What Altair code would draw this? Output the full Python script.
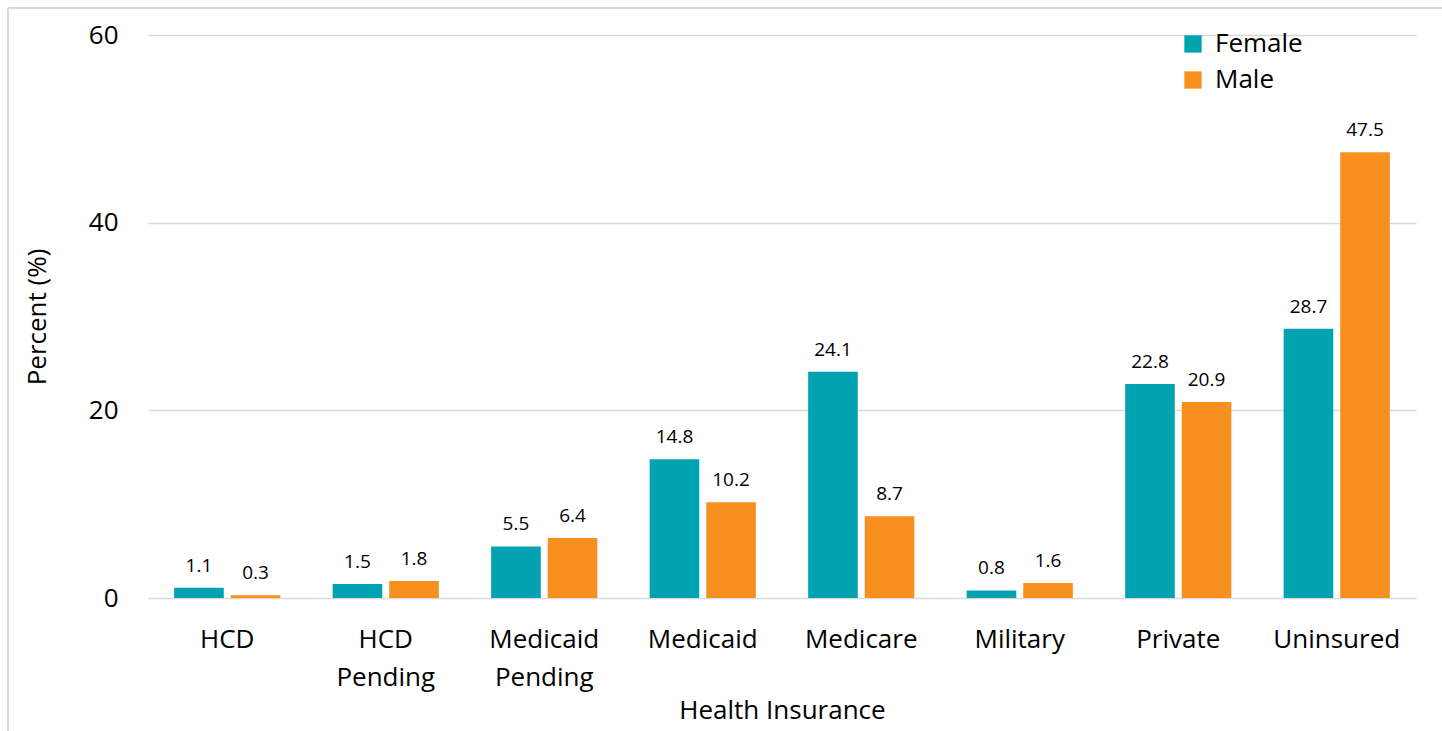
import altair as alt
import pandas as pd

categories = ["HCD", "HCD Pending", "Medicaid Pending", "Medicaid", "Medicare", "Military", "Private", "Uninsured"]
female = [1.1, 1.5, 5.5, 14.8, 24.1, 0.8, 22.8, 28.7]
male = [0.3, 1.8, 6.4, 10.2, 8.7, 1.6, 20.9, 47.5]
groups = ["Female", "Male"]
colors = ["#00A3AF", "#F7901E"]

rows = []
for c, f, m in zip(categories, female, male):
    rows.append({"cat": c, "sex": "Female", "val": f})
    rows.append({"cat": c, "sex": "Male", "val": m})
df = pd.DataFrame(rows)

FONT = "Open Sans"

x = alt.X("cat:N", sort=categories, title="Health Insurance",
          scale=alt.Scale(paddingInner=0.33, paddingOuter=0.165),
          axis=alt.Axis(labelAngle=0, labelExpr="split(datum.label, ' ')", labelLineHeight=38,
                        labelFontSize=26, labelPadding=28, ticks=False, domain=False,
                        titleFontSize=26, titleFontWeight="normal", titlePadding=7,
                        labelColor="#000", titleColor="#000", labelBaseline="top"))
xo = alt.XOffset("sex:N", sort=groups, scale=alt.Scale(paddingInner=0.123, paddingOuter=0))
y = alt.Y("val:Q", title="Percent (%)",
          scale=alt.Scale(domain=[0, 60]),
          axis=alt.Axis(values=[0, 20, 40, 60], labelFontSize=26, labelPadding=30, ticks=False,
                        domain=False, gridColor="#d9d9d9", gridWidth=1.5,
                        titleFontSize=26, titleFontWeight="normal", titlePadding=38,
                        labelColor="#000", titleColor="#000"))
color = alt.Color("sex:N", sort=groups, scale=alt.Scale(domain=groups, range=colors),
                  legend=alt.Legend(title=None, orient="none", legendX=1032, legendY=-4,
                                    symbolType="square", symbolSize=300, symbolStrokeWidth=0,
                                    labelFontSize=26, labelColor="#000", rowPadding=10,
                                    labelOffset=9))

base = alt.Chart(df)
bars = base.mark_bar().encode(x=x, xOffset=xo, y=y, color=color)
labels = base.mark_text(baseline="bottom", dy=-12, fontSize=19, font=FONT, color="#000").encode(
    x=x, xOffset=xo, y=y, text=alt.Text("val:Q", format=".1f"))

border_top = base.mark_rule(color="#d9d9d9", strokeWidth=2).encode(
    x=alt.value(-140), x2=alt.value(1300), y=alt.value(-27))
border_left = base.mark_rule(color="#d9d9d9", strokeWidth=2).encode(
    x=alt.value(-140), y=alt.value(-27), y2=alt.value(700))

chart = alt.layer(border_top, border_left, bars, labels).properties(
    width=1268, height=563,
    autosize=alt.AutoSizeParams(type="none"),
    padding={"left": 148, "top": 35, "right": 26, "bottom": 133},
).configure(font=FONT, view=alt.ViewConfig(stroke=None))

chart.save("out.html", embed_options={"renderer": "svg", "actions": False})
